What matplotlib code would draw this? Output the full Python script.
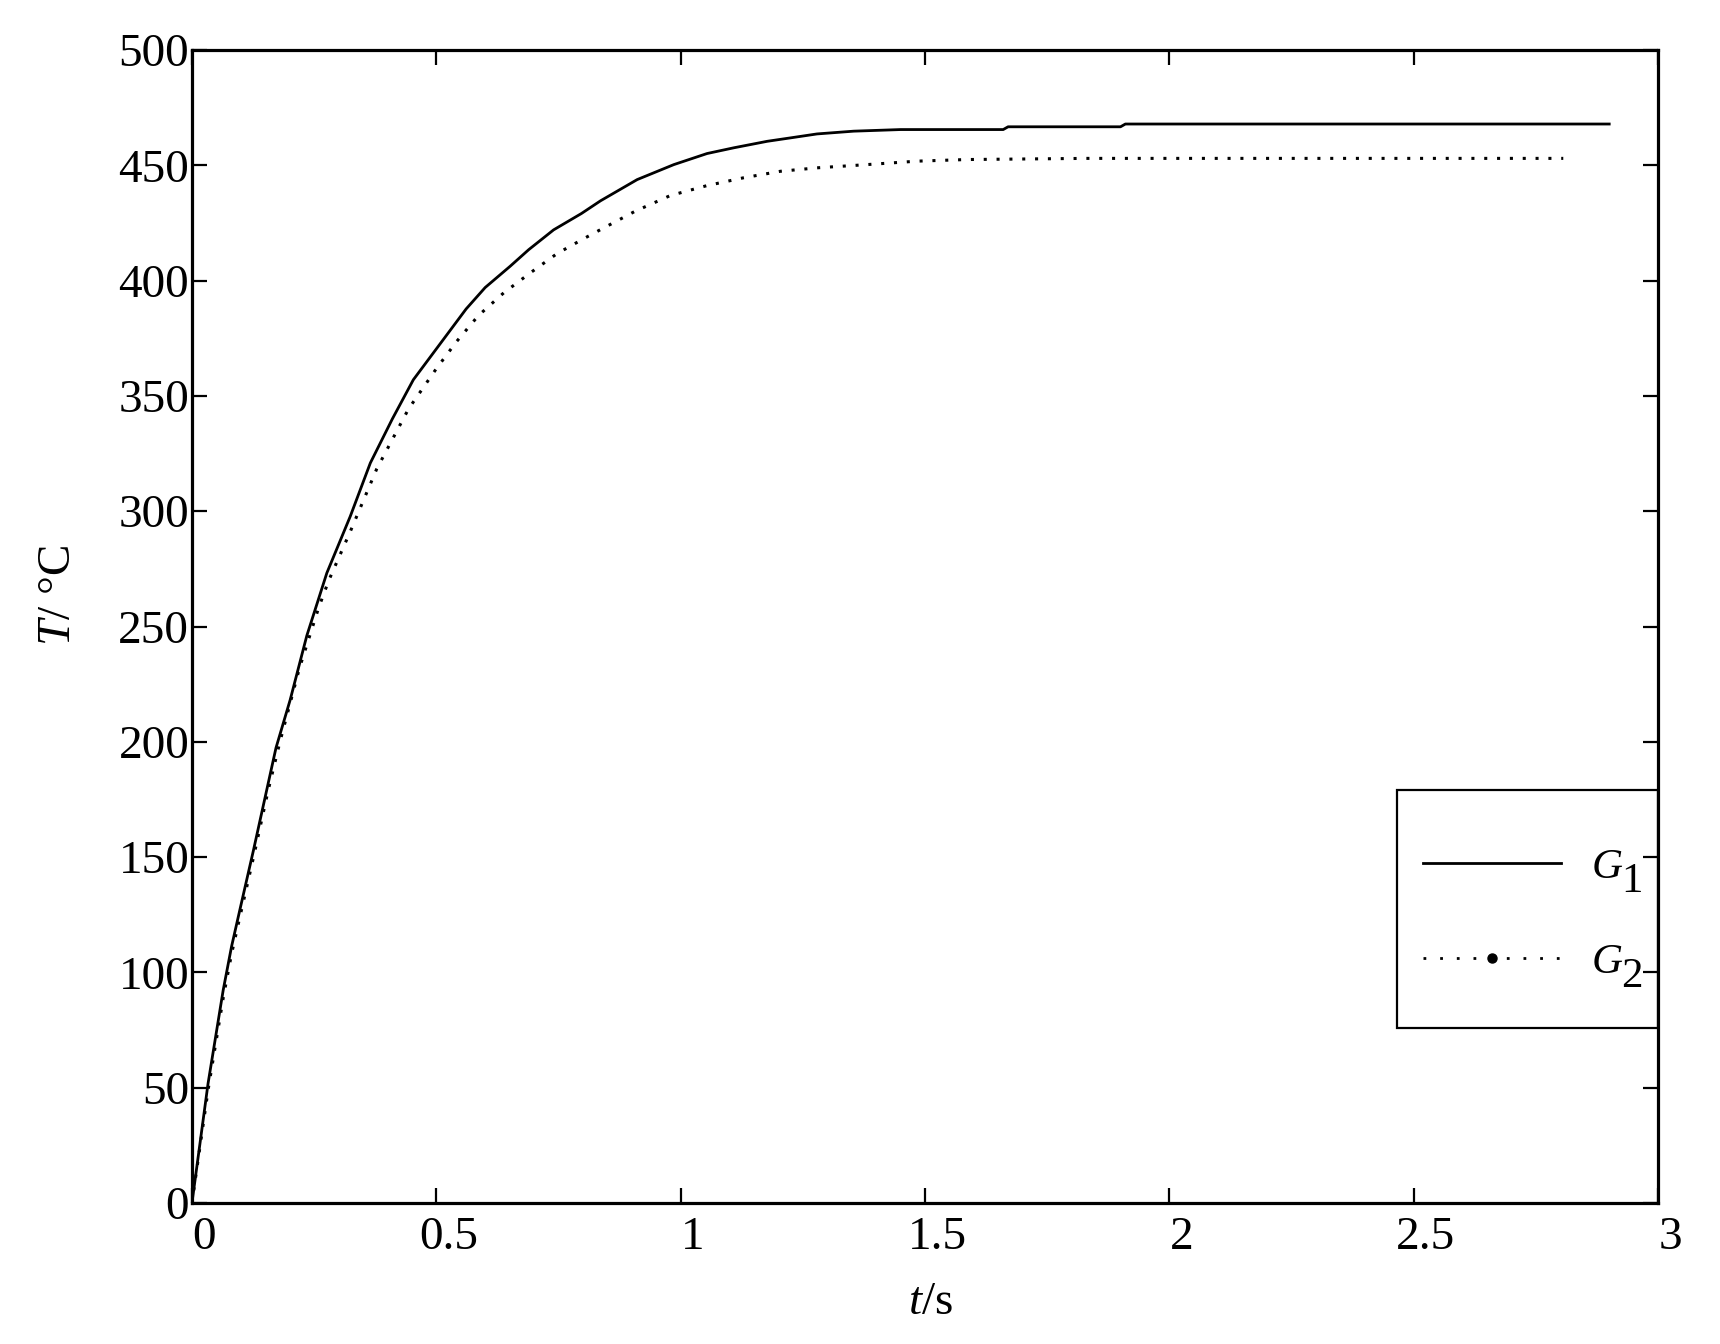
import matplotlib
matplotlib.use("Agg")
import matplotlib.pyplot as plt
from matplotlib.lines import Line2D
from matplotlib.patches import Rectangle
import matplotlib.transforms as mtransforms

plt.rcParams['font.family'] = ['Liberation Serif', 'DejaVu Serif']
plt.rcParams['mathtext.fontset'] = 'custom'
plt.rcParams['mathtext.rm'] = 'Liberation Serif'
plt.rcParams['mathtext.it'] = 'Liberation Serif:italic'
plt.rcParams['mathtext.bf'] = 'Liberation Serif:bold'

# ---- data ----
t_g1 = [0, 0.033, 0.064, 0.081, 0.098, 0.126, 0.156, 0.172, 0.201, 0.235, 0.276,
        0.324, 0.365, 0.41, 0.453, 0.504, 0.561, 0.60, 0.651, 0.689, 0.74, 0.797,
        0.836, 0.911, 0.986, 1.054, 1.109, 1.177, 1.225, 1.279, 1.354, 1.45, 1.66,
        1.67, 1.90, 1.91, 2.90]
T_g1 = [0, 51.9, 92.4, 111.2, 127.1, 153.1, 182, 197.4, 218.2, 246, 273.2,
        297.8, 320.9, 340, 357, 371.5, 387.7, 397, 406.2, 413.4, 422, 429.1,
        434.6, 443.8, 450.3, 455.1, 457.6, 460.4, 461.9, 463.6, 464.8, 465.5, 465.5,
        466.7, 466.7, 467.9, 467.9]

t_g2 = [0, 0.033, 0.064, 0.081, 0.098, 0.126, 0.156, 0.18, 0.22, 0.259, 0.28,
        0.324, 0.378, 0.443, 0.501, 0.542, 0.586, 0.638, 0.692, 0.747, 0.80,
        0.836, 0.907, 0.979, 1.054, 1.129, 1.204, 1.279, 1.381, 1.484, 1.586,
        1.83, 2.806]
T_g2 = [0, 49, 89, 108, 124, 150, 179, 200, 232, 258, 270,
        291.2, 318.3, 344.3, 362.1, 373.7, 384.8, 394.7, 403.3, 411.7, 418,
        422.1, 430.1, 436.9, 441.2, 444.6, 447.4, 448.9, 450.3, 451.8, 452.5,
        453, 453]

x_ticks = [0, 0.5, 1, 1.5, 2, 2.5, 3]
x_tick_labels = ['0', '0.5', '1', '1.5', '2', '2.5', '3']
y_ticks = [0, 50, 100, 150, 200, 250, 300, 350, 400, 450, 500]
series_names = ['$G$', '$G$']
series_subscripts = ['1', '2']

fig = plt.figure(figsize=(17.2, 13.44), dpi=100)
ax = fig.add_axes([0.1116, 0.1049, 0.964 - 0.1116, 0.9628 - 0.1049])

ax.plot(t_g1, T_g1, color='black', lw=2.0, solid_joinstyle='round')
ax.plot(t_g2, T_g2, color='black', lw=2.2, linestyle=(0, (1, 3.2)),
        dash_capstyle='butt')

ax.set_xlim(0, 3)
ax.set_ylim(0, 500)
ax.set_xticks(x_ticks)
ax.set_xticklabels(x_tick_labels)
ax.set_yticks(y_ticks)

for s in ax.spines.values():
    s.set_linewidth(2.3)
    s.set_color('black')

ax.tick_params(direction='in', length=11, width=1.6, top=True, right=True,
               labelsize=34, colors='black')
ax.tick_params(axis='y', pad=2)
ax.tick_params(axis='x', pad=10)

offset = mtransforms.ScaledTranslation(12 / 100, 0, fig.dpi_scale_trans)
for lab in ax.get_xticklabels():
    lab.set_transform(lab.get_transform() + offset)

ax.set_xlabel('$t$/s', fontsize=34)
ax.xaxis.set_label_coords(0.5037, -0.068)
ax.set_ylabel('$T$/ °C', fontsize=34)
ax.yaxis.set_label_coords(-0.0765, 0.527)

# legend
h1 = Line2D([], [], color='black', lw=2.0)
h2 = Line2D([], [], color='black', lw=2.0, linestyle=(0, (1, 5)),
            marker='.', markersize=13, dash_capstyle='butt')
leg = ax.legend([h1, h2], series_names, loc='center left',
                bbox_to_anchor=(0.822, 0.2498), borderaxespad=0,
                fontsize=31, handlelength=3.2, handletextpad=0.7,
                labelspacing=1.30, borderpad=0.6, numpoints=1,
                frameon=False)
ax.add_patch(Rectangle((0.822, 0.1518), 0.178, 0.3582 - 0.1518,
                       transform=ax.transAxes, fill=False, edgecolor='black',
                       lw=1.6, clip_on=False, zorder=4))
for txt, sub in zip(leg.get_texts(), series_subscripts):
    ax.annotate(sub, xy=(1, 0), xycoords=txt, xytext=(-1.5, -3.5),
                textcoords='offset points', fontsize=31, ha='left',
                va='baseline', annotation_clip=False, zorder=10)

fig.canvas.draw()
fig.savefig('out.png', dpi=100)
